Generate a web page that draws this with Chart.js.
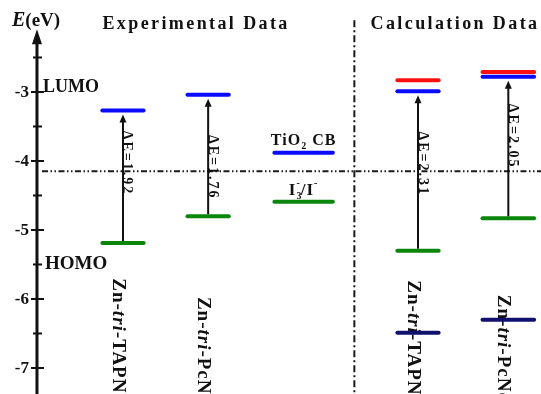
<!DOCTYPE html>
<html>
<head>
<meta charset="utf-8">
<script src="https://cdn.jsdelivr.net/npm/chart.js@4.4.0/dist/chart.umd.min.js"></script>
<style>
  html, body { margin: 0; padding: 0; background: #fff; }
  #wrap { width: 541px; height: 394px; }
</style>
</head>
<body>
<div id="wrap"><canvas id="levels" width="541" height="394"></canvas></div>
<script>
// Energy levels (eV) — experimental pair first, calculated pair second
const compounds = ['Zn-tri-TAPNc', 'Zn-tri-PcNc', 'Zn-tri-TAPNc', 'Zn-tri-PcNc'];
const compoundX = [1.0, 1.99, 4.43, 5.48];
const lumo = [-3.27, -3.04, -2.99, -2.78];
const homo = [-5.19, -4.80, -5.30, -4.83];
const lumoPlus = [null, null, -2.83, -2.71];
const homoDeep = [null, null, -6.49, -6.30];
const tio2CB = -3.88;
const redoxLevel = -4.59;
const refLevel = -4.15;
const yTicks = [-3, -4, -5, -6, -7];
const yMinorTicks = [-2.5, -3.5, -4.5, -5.5, -6.5];

// layout bits (axis units)
const barHalf = [0.24, 0.24, 0.24, 0.30];
const refX = 3.1, refHalf = 0.34;
const splitX = 3.69;
const labelTopY = [-5.70, -5.97, -5.73, -5.94];
const gapLabelY = [-4.03, -4.09, -4.04, -3.64];

const SERIF = '"Liberation Serif", "Times New Roman", serif';
const BLUE = '#0a0aff', RED = '#ff1010', GREEN = '#0a870a', NAVY = '#10106e';

function level(x, half, y, color) {
    return {
        data: [{ x: x - half, y: y }, { x: x + half, y: y }],
        borderColor: color,
        borderWidth: 4,
        borderCapStyle: 'round',
        pointRadius: 0,
        fill: false
    };
}

const datasets = [];
compounds.forEach((c, i) => {
    datasets.push(level(compoundX[i], barHalf[i], lumo[i], BLUE));
    datasets.push(level(compoundX[i], barHalf[i], homo[i], GREEN));
    if (lumoPlus[i] !== null) datasets.push(level(compoundX[i], barHalf[i], lumoPlus[i], RED));
    if (homoDeep[i] !== null) datasets.push(level(compoundX[i], barHalf[i], homoDeep[i], NAVY));
});
datasets.push(level(refX, refHalf, tio2CB, BLUE));
datasets.push(level(refX, refHalf, redoxLevel, GREEN));

// draw a row of text pieces, each with its own font / vertical offset
function drawRuns(ctx, runs, x, y, align) {
    let total = 0;
    runs.forEach(r => {
        ctx.font = r.font;
        r.w = ctx.measureText(r.text).width;
        if (!r.stack) total += r.w;
    });
    let cx = align === 'center' ? x - total / 2 : x;
    ctx.textAlign = 'left';
    runs.forEach(r => {
        ctx.font = r.font;
        ctx.fillText(r.text, cx, y + (r.dy || 0));
        if (!r.stack) cx += r.w;
    });
}

const decorations = {
    id: 'decorations',
    beforeDatasetsDraw(chart) {
        const { ctx, chartArea, scales: { x, y } } = chart;
        const ax = x.getPixelForValue(0);
        ctx.save();
        ctx.fillStyle = '#111';
        ctx.strokeStyle = '#111';

        // y axis with arrow
        const tip = y.getPixelForValue(-2.09);
        ctx.lineWidth = 3;
        ctx.beginPath();
        ctx.moveTo(ax, chartArea.bottom);
        ctx.lineTo(ax, tip + 10);
        ctx.stroke();
        ctx.beginPath();
        ctx.moveTo(ax, tip);
        ctx.lineTo(ax - 5, tip + 15);
        ctx.lineTo(ax + 5, tip + 15);
        ctx.closePath();
        ctx.fill();

        ctx.lineWidth = 2;
        yTicks.forEach(v => {
            const py = y.getPixelForValue(v);
            ctx.beginPath();
            ctx.moveTo(ax - 6, py);
            ctx.lineTo(ax + 7, py);
            ctx.stroke();
        });
        yMinorTicks.forEach(v => {
            const py = y.getPixelForValue(v);
            ctx.beginPath();
            ctx.moveTo(ax - 4, py);
            ctx.lineTo(ax + 5, py);
            ctx.stroke();
        });
        ctx.font = 'bold 17px ' + SERIF;
        ctx.textAlign = 'right';
        ctx.textBaseline = 'middle';
        yTicks.forEach(v => ctx.fillText(String(v), ax - 8, y.getPixelForValue(v) + 1));

        ctx.textBaseline = 'alphabetic';
        drawRuns(ctx, [
            { text: 'E', font: 'italic bold 20px ' + SERIF },
            { text: '(eV)', font: 'bold 19px ' + SERIF }
        ], 12, 26);

        ctx.font = 'bold 18px ' + SERIF;
        ctx.textAlign = 'left';
        ctx.fillText('LUMO', ax + 6, y.getPixelForValue(-3));
        ctx.font = 'bold 19px ' + SERIF;
        ctx.fillText('HOMO', ax + 8, y.getPixelForValue(-5.56));

        // section titles
        ctx.letterSpacing = '2.4px';
        ctx.font = 'bold 18px ' + SERIF;
        ctx.textAlign = 'center';
        ctx.fillText('Experimental Data', x.getPixelForValue(1.85), 29);
        ctx.fillText('Calculation Data', x.getPixelForValue(4.86), 29);
        ctx.letterSpacing = '1px';

        // reference level labels
        const rx = x.getPixelForValue(refX);
        drawRuns(ctx, [
            { text: 'TiO', font: 'bold 16px ' + SERIF },
            { text: '2', font: 'bold 10px ' + SERIF, dy: 4 },
            { text: ' CB', font: 'bold 16px ' + SERIF }
        ], rx, y.getPixelForValue(tio2CB) - 8, 'center');
        drawRuns(ctx, [
            { text: 'I', font: 'bold 17px ' + SERIF },
            { text: '3', font: 'bold 10px ' + SERIF, dy: 4, stack: true },
            { text: '-', font: 'bold 10px ' + SERIF, dy: -9 },
            { text: '/I', font: 'bold 17px ' + SERIF },
            { text: '-', font: 'bold 10px ' + SERIF, dy: -9 }
        ], rx, y.getPixelForValue(redoxLevel) - 7, 'center');
        ctx.letterSpacing = '0px';

        // dash-dot guides
        ctx.lineWidth = 2;
        ctx.strokeStyle = '#1a1a1a';
        ctx.setLineDash([6, 2.5, 1.5, 2.5, 1.5, 2.5]);
        const ry = y.getPixelForValue(refLevel);
        ctx.beginPath();
        ctx.moveTo(ax + 5, ry);
        ctx.lineTo(chartArea.right, ry);
        ctx.stroke();
        ctx.setLineDash([7, 3, 2, 3]);
        const sx = x.getPixelForValue(splitX);
        ctx.beginPath();
        ctx.moveTo(sx, y.getPixelForValue(-1.96));
        ctx.lineTo(sx, chartArea.bottom);
        ctx.stroke();
        ctx.setLineDash([]);

        // rotated compound names
        ctx.textBaseline = 'middle';
        ctx.letterSpacing = '1px';
        compounds.forEach((name, i) => {
            const parts = name.split('tri');
            ctx.save();
            ctx.translate(x.getPixelForValue(compoundX[i]) - 5, y.getPixelForValue(labelTopY[i]));
            ctx.rotate(Math.PI / 2);
            drawRuns(ctx, [
                { text: parts[0], font: 'bold 19px ' + SERIF },
                { text: 'tri', font: 'italic bold 19px ' + SERIF },
                { text: parts[1], font: 'bold 19px ' + SERIF }
            ], 0, 0);
            ctx.restore();
        });
        ctx.restore();
    },
    afterDatasetsDraw(chart) {
        const { ctx, scales: { x, y } } = chart;
        ctx.save();
        ctx.fillStyle = '#111';
        ctx.strokeStyle = '#111';
        compounds.forEach((name, i) => {
            const px = x.getPixelForValue(compoundX[i]);
            const top = y.getPixelForValue(lumo[i]) + 4;
            const bottom = y.getPixelForValue(homo[i]) - 2;
            ctx.lineWidth = 2;
            ctx.beginPath();
            ctx.moveTo(px, bottom);
            ctx.lineTo(px, top + 6);
            ctx.stroke();
            ctx.beginPath();
            ctx.moveTo(px, top);
            ctx.lineTo(px - 3.5, top + 8);
            ctx.lineTo(px + 3.5, top + 8);
            ctx.closePath();
            ctx.fill();

            const gap = (lumo[i] - homo[i]).toFixed(2);
            ctx.save();
            ctx.translate(px + 0.5, y.getPixelForValue(gapLabelY[i]));
            ctx.rotate(Math.PI / 2);
            ctx.letterSpacing = '2px';
            ctx.font = 'bold 14px ' + SERIF;
            ctx.textAlign = 'center';
            ctx.textBaseline = 'alphabetic';
            ctx.fillText('\u0394E=' + gap, 0, 0);
            ctx.restore();
        });
        ctx.restore();
    }
};

new Chart(document.getElementById('levels'), {
    type: 'line',
    data: { datasets: datasets },
    options: {
        responsive: false,
        animation: false,
        devicePixelRatio: 1,
        layout: { padding: 0 },
        plugins: { legend: { display: false }, tooltip: { enabled: false } },
        scales: {
            x: { type: 'linear', min: -0.43, max: 5.86, display: false },
            y: { type: 'linear', min: -7.377, max: -1.667, display: false }
        }
    },
    plugins: [decorations]
});
</script>
</body>
</html>
